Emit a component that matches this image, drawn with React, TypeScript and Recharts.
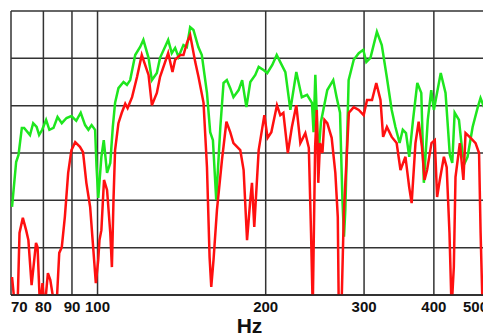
import React from "react";
import { LineChart, Line, XAxis, YAxis, CartesianGrid } from "recharts";

const freqTicks = [70, 80, 90, 100, 200, 300, 400, 500];
const levelTicks = [0, 10, 20, 30, 40, 50, 60];

const greenFreq = [
  70.3, 71.5, 72.2, 73.2, 73.9, 75.7, 76.7, 77.8, 78.6, 79.6, 80.9, 82.0, 83.4, 84.8, 86.3, 88.0,
  89.8, 91.6, 93.3, 95.0, 96.3, 97.6, 99.0, 99.6, 100.3, 101.6, 102.6, 104.0, 105.4, 106.5, 107.5,
  109.0, 111.3, 112.9, 114.4, 116.8, 119.2, 120.8, 123.4, 125.1, 127.7, 129.4, 133.8, 135.8, 137.7,
  139.6, 142.5, 144.5, 146.5, 148.5, 151.5, 153.7, 157.0, 159.1, 160.9, 163.1, 165.9, 168.1, 170.4,
  172.8, 175.1, 178.9, 181.5, 184.7, 187.7, 191.6, 194.3, 198.5, 201.3, 205.5, 209.3, 212.4, 216.9,
  221.4, 226.9, 232.1, 237.2, 242.0, 243.6, 245.4, 248.4, 251.2, 257.8, 264.2, 267.9, 271.7, 274.4,
  276.2, 277.7, 281.5, 287.5, 293.5, 299.0, 302.8, 308.0, 316.3, 322.7, 329.4, 336.2, 341.4, 347.3,
  351.9, 356.6, 361.4, 367.1, 373.6, 379.8, 383.8, 390.1, 395.7, 400, 411.5, 419.7, 427.2, 431.5,
  435.8, 443.6, 450.0, 454.3, 459.6, 469.3, 479.4, 484.8, 491.7,
];
const greenLevel = [
  18.6, 28.1, 29.6, 35.3, 35.3, 33.8, 36.3, 35.5, 33.8, 34.9, 37.0, 34.9, 35.3, 37.6, 36.3, 37.4,
  37.8, 36.8, 38.5, 35.9, 34.9, 35.9, 34.9, 27.0, 20.5, 29.2, 32.7, 25.8, 27.9, 35.5, 40.6,
  43.7, 45.0, 44.4, 45.4, 50.7, 52.4, 53.9, 50.1, 45.4, 46.9, 50.1, 53.9, 51.1, 52.2,
  50.3, 52.8, 52.4, 56.6, 56.0, 52.4, 50.7, 42.7, 34.4, 32.7, 20.1, 35.5, 44.8, 45.4,
  43.7, 41.8, 43.3, 45.4, 39.7, 45.0, 46.5, 48.2, 47.5, 46.9, 48.6, 50.7, 49.2, 47.1,
  39.1, 47.1, 41.8, 42.3, 40.6, 34.4, 46.5, 29.2, 36.6, 43.3, 45.4, 41.8, 38.5, 20.1,
  12.3, 18.0, 45.4, 49.7, 51.1, 51.8, 49.2, 50.1, 55.6, 52.8, 46.1, 39.1, 35.5, 32.1,
  34.9, 34.2, 29.2, 37.0, 44.8, 42.7, 23.7, 37.0, 43.3, 39.1, 46.9, 42.7, 29.6, 27.9,
  38.5, 37.0, 30.0, 27.9, 29.2, 35.5, 39.7, 41.6, 39.7,
];

const redFreq = [
  70.3, 71.2, 71.9, 72.5, 73.5, 74.5, 75.2, 76.2, 77.6, 78.1, 78.9, 79.7, 80.4, 81.5, 82.3, 83.9,
  84.4, 85.4, 86.3, 87.4, 88.6, 89.8, 91.2, 93.0, 94.2, 95.5, 97.0, 98.3, 99.3, 100.3, 100.8, 101.6,
  102.7, 104.0, 105.4, 106.1, 106.8, 107.5, 109.0, 110.5, 112.1, 113.2, 115.3, 117.7, 120.0, 123.4,
  125.1, 127.7, 129.4, 133.8, 136.2, 137.7, 140.6, 142.5, 144.5, 146.5, 149.6, 151.6, 154.8, 157.0,
  158.7, 159.8, 161.3, 163.6, 167.0, 170.1, 172.8, 175.1, 180.1, 182.6, 185.2, 187.7, 189.0, 190.8,
  194.3, 198.9, 201.6, 204.7, 209.5, 212.4, 215.1, 219.1, 222.8, 226.9, 230.7, 235.5, 238.9, 241.1,
  242.8, 245.2, 246.9, 248.4, 250.2, 252.7, 254.8, 257.8, 262.5, 266.5, 269.2, 270.3, 273.3, 276.0,
  281.8, 287.5, 293.5, 299.5, 303.7, 310.0, 315.5, 321.0, 324.5, 329.6, 336.2, 343.1, 348.6, 355.8,
  361.3, 365.0, 370.8, 375.7, 380.8, 384.9, 389.0, 396.1, 401.5, 405.4, 409.9, 416.9, 421.7, 426.6,
  430.3, 434.3, 437.3, 445.2, 451.8, 455.8, 465.4, 475, 481.9, 485, 489,
];
const redLevel = [
  3.8, -3, -3, 13.1, 16.3, 13.7, 11.6, 2.1, 11.0, 10.1, -3, 2.5, -3, 4.6, 3.2, -3,
  -3, 8.9, 10.1, 16.5, 25.8, 30.6, 32.3, 31.3, 30.2, 23.7, 18.6, 9.5, 2.5, 7.4, 11.6, 13.7,
  24.3, 22.2, 13.1, 5.9, 20.1, 30.6, 36.3, 38.5, 40.4, 39.5, 41.8, 46.1, 50.7, 46.5,
  40.1, 42.7, 46.1, 51.1, 47.1, 49.7, 50.7, 50.7, 53.2, 54.9, 49.2, 46.1, 40.6, 27.0,
  8.0, 1.7, 7.4, 18.0, 28.5, 36.6, 34.4, 32.1, 30.6, 26.4, 11.6, 20.1, 23.7, 14.4,
  30.6, 38.0, 33.2, 34.4, 40.1, 38.0, 38.5, 30.0, 35.5, 40.1, 32.1, 34.2, 31.1, 13.1,
  -3, 31.3, 39.1, 23.7, 32.1, 30.0, 37.0, 36.3, 33.2, 25.8, 16.5, -3, -3, 17.3,
  38.5, 39.7, 39.1, 38.0, 41.2, 41.2, 44.8, 41.2, 33.4, 35.5, 33.4, 32.1, 26.4, 29.2,
  22.8, 19.4, 32.1, 36.6, 31.3, 24.3, 26.4, 32.1, 32.7, 20.7, 24.3, 29.2, 27.0, 13.1,
  -3, 5.9, 24.9, 32.1, 24.3, 34.2, 33.2, 32.1, 30.0, 13.1, -3,
];

const toPoints = (freqs: number[], levels: number[]) =>
  freqs.map((hz, i) => ({ hz, level: levels[i] }));

const greenData = toPoints(greenFreq, greenLevel);
const redData = toPoints(redFreq, redLevel);

const FreqTick = (props: any) => {
  const { x, y, payload } = props;
  const v = payload.value;
  const anchor = v === 70 ? "start" : v === 500 ? "end" : "middle";
  return (
    <text
      x={x}
      y={y}
      dy={13}
      textAnchor={anchor}
      fill="#111"
      fontSize={15}
      fontWeight="bold"
      fontFamily="'Liberation Sans', Arial, sans-serif"
    >
      {v}
    </text>
  );
};

// y axis has no labels in the original, only grid lines
const NoTick = () => <g />;

export default function App() {
  return (
    <div
      style={{
        position: "absolute",
        left: 0,
        top: 0,
        width: 483,
        height: 336,
        overflow: "hidden",
        background: "#fff",
      }}
    >
      <LineChart
        width={490}
        height={336}
        margin={{ top: 11, right: 2, bottom: 0, left: 11 }}
      >
        <CartesianGrid stroke="#333" strokeWidth={1.5} />
        <XAxis
          dataKey="hz"
          type="number"
          scale="log"
          domain={[70, 500]}
          ticks={freqTicks}
          allowDataOverflow
          interval={0}
          height={41}
          tickSize={0}
          tickMargin={4}
          tickLine={false}
          axisLine={{ stroke: "#222", strokeWidth: 1.5 }}
          tick={<FreqTick />}
          label={{
            value: "Hz",
            position: "insideBottom",
            offset: 3,
            fill: "#111",
            fontSize: 21,
            fontWeight: "bold",
            fontFamily: "'Liberation Sans', Arial, sans-serif",
          }}
        />
        <YAxis
          dataKey="level"
          type="number"
          domain={[0, 60]}
          ticks={levelTicks}
          interval={0}
          allowDataOverflow
          width={0}
          tick={<NoTick />}
          tickLine={false}
          axisLine={{ stroke: "#222", strokeWidth: 1.5 }}
        />
        <Line
          data={greenData}
          dataKey="level"
          type="linear"
          stroke="#1ee61e"
          strokeWidth={2.5}
          dot={false}
          isAnimationActive={false}
        />
        <Line
          data={redData}
          dataKey="level"
          type="linear"
          stroke="#ff1010"
          strokeWidth={2.5}
          dot={false}
          isAnimationActive={false}
        />
      </LineChart>
    </div>
  );
}
